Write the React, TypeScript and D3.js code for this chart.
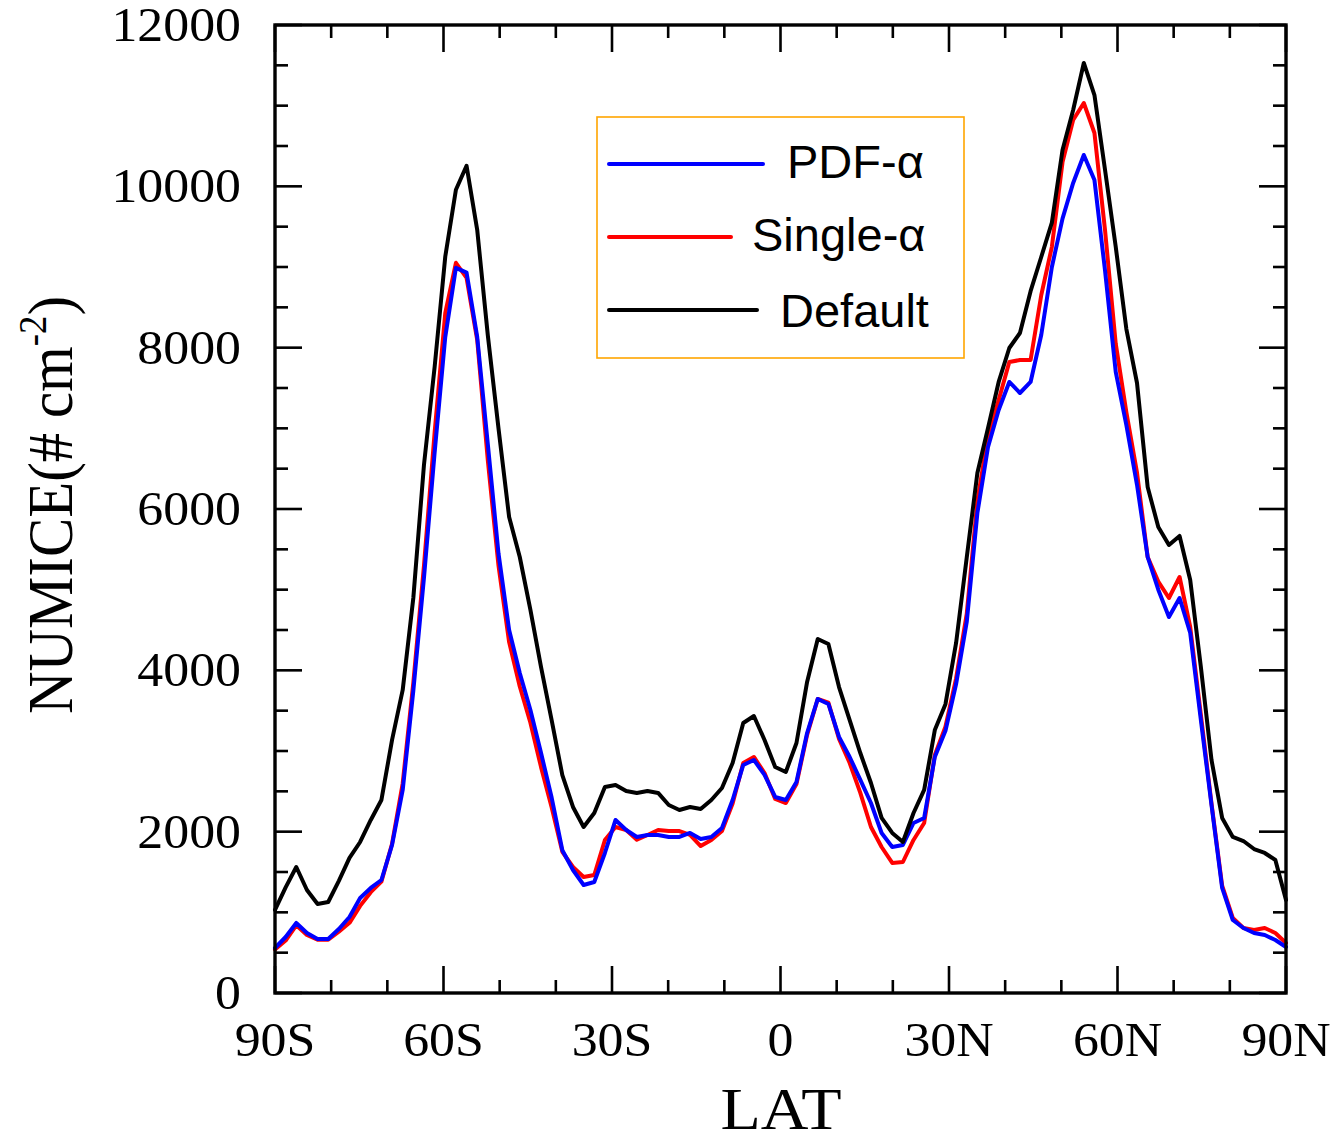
import React from 'react';
import * as d3 from 'd3';

// Model latitude grid (96 points, pole to pole)
const latCount = 96;
const lats: number[] = d3.range(latCount).map((i) => -90 + (i * 180) / (latCount - 1));

const pdfAlpha: number[] = [
  558, 694, 868, 744, 670, 670, 793, 942, 1178, 1302,
  1401, 1835, 2517, 3750, 5150, 6700, 8134, 8990, 8930, 8134,
  6800, 5450, 4500, 3967, 3508, 2975, 2420, 1770, 1525, 1339,
  1376, 1736, 2145, 2021, 1934, 1959, 1959, 1934, 1934, 1984,
  1909, 1934, 2046, 2393, 2827, 2889, 2703, 2430, 2393, 2616,
  3223, 3645, 3583, 3174, 2926, 2641, 2355, 1984, 1810, 1835,
  2108, 2170, 2926, 3250, 3830, 4600, 5950, 6768, 7228, 7575,
  7438, 7575, 8157, 9000, 9600, 10042, 10389, 10079, 8950, 7700,
  7041, 6300, 5405, 5000, 4661, 4897, 4463, 3385, 2330, 1302,
  905, 806, 744, 719, 657, 570,
];

const singleAlpha: number[] = [
  540, 650, 840, 720, 660, 660, 760, 870, 1080, 1250,
  1380, 1850, 2600, 3850, 5300, 6950, 8430, 9052, 8866, 8097,
  6600, 5300, 4350, 3800, 3350, 2800, 2300, 1750, 1562, 1438,
  1463, 1897, 2058, 2021, 1900, 1959, 2021, 2008, 2008, 1959,
  1822, 1897, 2008, 2350, 2851, 2926, 2727, 2405, 2355, 2590,
  3200, 3645, 3600, 3150, 2851, 2480, 2058, 1810, 1612, 1624,
  1897, 2108, 2950, 3300, 3900, 4700, 6100, 6900, 7350, 7823,
  7847, 7847, 8650, 9250, 10300, 10823, 11033, 10661, 9450, 8050,
  7200, 6450, 5405, 5100, 4897, 5157, 4537, 3450, 2350, 1330,
  930, 806, 781, 806, 744, 620,
];

const defaultRun: number[] = [
  1030, 1310, 1562, 1277, 1103, 1128, 1390, 1674, 1872, 2145,
  2393, 3137, 3757, 4900, 6550, 7760, 9130, 9957, 10255, 9461,
  8150, 7000, 5900, 5405, 4750, 4040, 3380, 2700, 2306, 2058,
  2231, 2554, 2579, 2504, 2480, 2504, 2480, 2331, 2269, 2306,
  2281, 2393, 2541, 2851, 3347, 3434, 3136, 2802, 2740, 3099,
  3856, 4389, 4327, 3793, 3384, 2975, 2603, 2170, 1984, 1872,
  2231, 2517, 3260, 3580, 4340, 5400, 6446, 7004, 7575, 7996,
  8182, 8700, 9124, 9550, 10450, 10947, 11529, 11132, 10200, 9250,
  8230, 7562, 6273, 5777, 5554, 5666, 5120, 4041, 2889, 2170,
  1934, 1884, 1785, 1736, 1649, 1153,
];

const xTickValues: number[] = [-90, -60, -30, 0, 30, 60, 90];
const xTickLabels: string[] = ['90S', '60S', '30S', '0', '30N', '60N', '90N'];
const xMinorValues: number[] = d3.range(-90, 91, 10);
const yTickValues: number[] = [0, 2000, 4000, 6000, 8000, 10000, 12000];
const yMinorValues: number[] = d3.range(0, 12001, 500);

const seriesNames: string[] = ['PDF-α', 'Single-α', 'Default'];
const seriesColors: string[] = ['#0000ff', '#ff0000', '#000000'];
const seriesData: number[][] = [pdfAlpha, singleAlpha, defaultRun];

// layout
const W = 1332;
const H = 1134;
const plot = { left: 275, right: 1286, top: 25, bottom: 993 };
const MAJOR = 27;
const MINOR = 13;
const serif = "'Liberation Serif', 'Times New Roman', serif";
const sans = "'Liberation Sans', Arial, sans-serif";
const tickFont = 48;
const tickStretch = 1.08;

const legendBox = { x: 597, y: 117, w: 367, h: 241 };
const legendRows = [
  { lineX1: 609, lineX2: 763, lineY: 164, textX: 787, textY: 178 },
  { lineX1: 609, lineX2: 731, lineY: 237, textX: 752, textY: 251 },
  { lineX1: 609, lineX2: 757, lineY: 310, textX: 780, textY: 327 },
];

export default function App() {
  const x = d3.scaleLinear().domain([-90, 90]).range([plot.left, plot.right]);
  const y = d3.scaleLinear().domain([0, 12000]).range([plot.bottom, plot.top]);

  const line = d3
    .line<number>()
    .x((_, i) => x(lats[i]))
    .y((d) => y(d));

  const drawOrder = [1, 0, 2];

  return (
    <svg
      width={W}
      height={H}
      viewBox={`0 0 ${W} ${H}`}
      style={{ position: 'absolute', left: 0, top: 0, background: '#fff' }}
    >
      <rect x={0} y={0} width={W} height={H} fill="#fff" />

      {/* data lines */}
      <g fill="none" strokeWidth={4} strokeLinejoin="round" strokeLinecap="round">
        {drawOrder.map((k) => (
          <path key={k} d={line(seriesData[k]) || ''} stroke={seriesColors[k]} />
        ))}
      </g>

      {/* ticks on all four sides */}
      <g stroke="#000" strokeWidth={2.6}>
        {xMinorValues.map((v) => {
          const major = xTickValues.includes(v);
          const len = major ? MAJOR : MINOR;
          return (
            <g key={'xt' + v}>
              <line x1={x(v)} x2={x(v)} y1={plot.bottom} y2={plot.bottom - len} />
              <line x1={x(v)} x2={x(v)} y1={plot.top} y2={plot.top + len} />
            </g>
          );
        })}
        {yMinorValues.map((v) => {
          const major = yTickValues.includes(v);
          const len = major ? MAJOR : MINOR;
          return (
            <g key={'yt' + v}>
              <line x1={plot.left} x2={plot.left + len} y1={y(v)} y2={y(v)} />
              <line x1={plot.right} x2={plot.right - len} y1={y(v)} y2={y(v)} />
            </g>
          );
        })}
      </g>

      {/* frame */}
      <rect
        x={plot.left}
        y={plot.top}
        width={plot.right - plot.left}
        height={plot.bottom - plot.top}
        fill="none"
        stroke="#000"
        strokeWidth={3.4}
      />

      {/* y tick labels */}
      <g fontFamily={serif} fontSize={tickFont} fill="#000" textAnchor="end">
        {yTickValues.map((v) => (
          <text
            key={'yl' + v}
            transform={`translate(241,${y(v) + 16}) scale(${tickStretch},1)`}
          >
            {v}
          </text>
        ))}
      </g>

      {/* x tick labels */}
      <g fontFamily={serif} fontSize={tickFont} fill="#000" textAnchor="middle">
        {xTickValues.map((v, i) => (
          <text
            key={'xl' + v}
            transform={`translate(${x(v)},1056) scale(${tickStretch},1)`}
          >
            {xTickLabels[i]}
          </text>
        ))}
      </g>

      {/* axis titles */}
      <text
        transform="translate(781,1129) scale(1.1,1)"
        fontFamily={serif}
        fontSize={60}
        textAnchor="middle"
        fill="#000"
      >
        LAT
      </text>
      <text
        transform="translate(72,505) rotate(-90) scale(0.92,1)"
        fontFamily={serif}
        fontSize={64}
        textAnchor="middle"
        fill="#000"
      >
        NUMICE(# cm
        <tspan fontSize={40} dy={-26}>-2</tspan>
        <tspan dy={26}>)</tspan>
      </text>

      {/* legend */}
      <rect
        x={legendBox.x}
        y={legendBox.y}
        width={legendBox.w}
        height={legendBox.h}
        fill="#fff"
        stroke="#ffa500"
        strokeWidth={1.6}
      />
      {legendRows.map((r, i) => (
        <g key={'lg' + i}>
          <line
            x1={r.lineX1}
            x2={r.lineX2}
            y1={r.lineY}
            y2={r.lineY}
            stroke={seriesColors[i]}
            strokeWidth={4}
            strokeLinecap="round"
          />
          <text x={r.textX} y={r.textY} fontFamily={sans} fontSize={47} fill="#000">
            {seriesNames[i]}
          </text>
        </g>
      ))}
    </svg>
  );
}
